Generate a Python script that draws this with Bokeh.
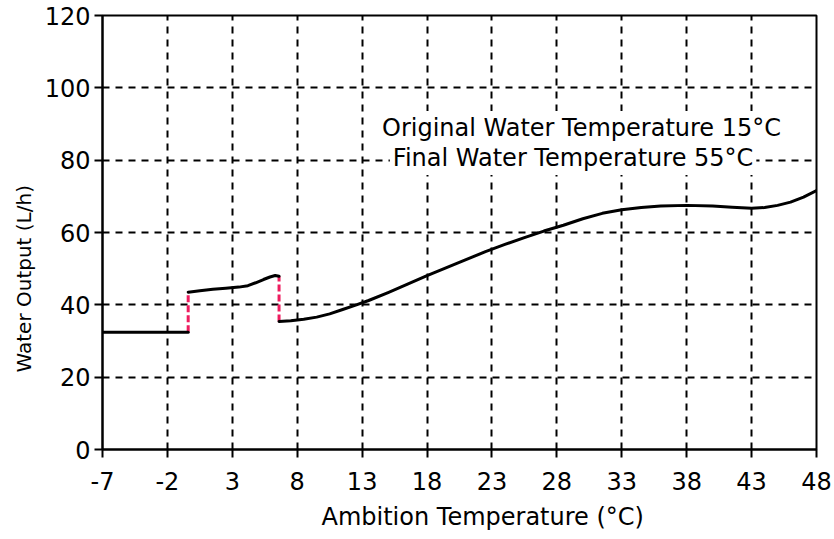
from bokeh.plotting import figure
from bokeh.models import FixedTicker, Label, Range1d, Title
from bokeh.embed import file_html
from bokeh.resources import INLINE

# ---- data ----
x_ticks = [-7, -2, 3, 8, 13, 18, 23, 28, 33, 38, 43, 48]
y_ticks = [0, 20, 40, 60, 80, 100, 120]

seg1_x = [-7, -0.4]
seg1_y = [32.4, 32.4]

seg2_x = [-0.4, 0.5, 1.5, 2.5, 3.5, 4.2, 4.8, 5.4, 5.9, 6.3, 6.6]
seg2_y = [43.5, 43.9, 44.3, 44.6, 44.9, 45.3, 46.1, 47.0, 47.7, 48.1, 47.9]

seg3_x = [6.6, 7.5, 8.5, 9.5, 10.5, 11.5, 12.5, 13.5, 15, 16.5, 18, 19.5, 21, 22.5, 24,
          25.5, 27, 28.5, 30, 31.5, 33, 34.5, 36, 38, 40, 41.5, 43, 44, 45, 46, 47, 48]
seg3_y = [35.4, 35.6, 36.0, 36.6, 37.5, 38.7, 39.9, 41.2, 43.4, 45.7, 48.1, 50.3, 52.5,
          54.7, 56.7, 58.6, 60.4, 62.0, 63.8, 65.3, 66.3, 66.9, 67.3, 67.5, 67.3, 67.0,
          66.7, 66.9, 67.5, 68.4, 69.8, 71.6]

jump_x = [-0.4, 6.6]
jump_lo = [32.4, 35.4]
jump_hi = [43.5, 47.9]

note_lines = ["Original Water Temperature 15°C", "Final Water Temperature 55°C"]
x_title = "Ambition Temperature (°C)"
y_title = "Water Output (L/h)"

FONT = "DejaVu Sans"

p = figure(width=834, height=539,
           x_range=Range1d(-7, 48), y_range=Range1d(0, 120),
           output_backend="svg", toolbar_location=None,
           min_border_left=102, min_border_right=18,
           min_border_top=15, min_border_bottom=90)

p.background_fill_color = "white"
p.border_fill_color = "white"
p.outline_line_color = "black"
p.outline_line_width = 2

# axes
for ax in (p.xaxis[0], p.yaxis[0]):
    ax.axis_line_color = "black"
    ax.axis_line_width = 2
    ax.major_tick_line_color = "black"
    ax.major_tick_line_width = 2
    ax.major_tick_out = 8
    ax.major_tick_in = 0
    ax.minor_tick_line_color = None
    ax.major_label_text_font = FONT
    ax.major_label_text_font_size = "24px"
    ax.major_label_text_color = "black"

p.xaxis.ticker = FixedTicker(ticks=x_ticks)
p.yaxis.ticker = FixedTicker(ticks=y_ticks)
p.xaxis.major_label_overrides = {t: str(t) for t in x_ticks}
p.yaxis.major_label_overrides = {t: str(t) for t in y_ticks}
p.xaxis.major_label_standoff = 14
p.yaxis.major_label_standoff = 4

# grid
for g in (p.xgrid[0], p.ygrid[0]):
    g.grid_line_color = "black"
    g.grid_line_width = 2
    g.grid_line_dash = "7 6"
p.xgrid.ticker = FixedTicker(ticks=x_ticks)
p.ygrid.ticker = FixedTicker(ticks=y_ticks)

# data lines
p.segment(x0=jump_x, y0=jump_lo, x1=jump_x, y1=jump_hi,
          line_color="#ee1d5f", line_width=3, line_dash="7 3")
for xs, ys in ((seg1_x, seg1_y), (seg2_x, seg2_y), (seg3_x, seg3_y)):
    p.line(xs, ys, line_color="black", line_width=3,
           line_join="round", line_cap="round")

# annotation
note_pos = [(29.9, 88.9), (29.25, 80.6)]
for txt, (lx, ly) in zip(note_lines, note_pos):
    p.add_layout(Label(x=lx, y=ly, text=txt, text_align="center",
                       text_baseline="middle", text_font=FONT,
                       text_font_size="24px", text_color="black",
                       background_fill_color="white", background_fill_alpha=1.0,
                       padding=3))

# axis titles as side titles (allow the original's off-centre placement)
xt = Title(text=x_title, align="left", offset=219, standoff=17,
           text_font=FONT, text_font_size="24px", text_font_style="normal",
           text_color="black")
p.add_layout(xt, "below")
yt = Title(text=y_title, align="left", offset=77, standoff=12,
           text_font=FONT, text_font_size="20px", text_font_style="normal",
           text_color="black")
p.add_layout(yt, "left")

open("out.html", "w").write(file_html(p, INLINE))
